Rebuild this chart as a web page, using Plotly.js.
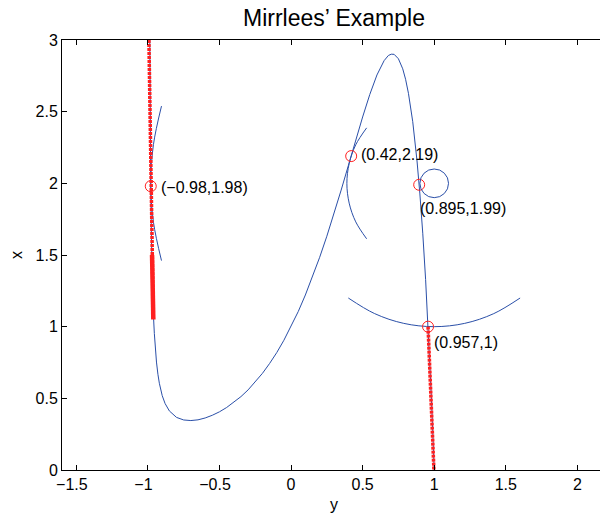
<!DOCTYPE html>
<html>
<head>
<meta charset="utf-8">
<script src="https://cdn.plot.ly/plotly-3.0.1.min.js"></script>
<style>
html, body { margin: 0; padding: 0; overflow: hidden; background: #fff; }
#chart { width: 620px; height: 516px; }
</style>
</head>
<body>
<div id="chart"></div>
<script>
// Blue curve (horizontal: y, vertical: x)
const curveY = [-0.988, -0.987, -0.985, -0.983, -0.98, -0.975, -0.97, -0.965, -0.96, -0.955, -0.95, -0.94, -0.93, -0.92, -0.9, -0.88, -0.85, -0.82, -0.8, -0.75, -0.7, -0.65, -0.6, -0.55, -0.5, -0.45, -0.4, -0.35, -0.3, -0.25, -0.2, -0.15, -0.1, -0.05, 0, 0.05, 0.1, 0.15, 0.2, 0.25, 0.3, 0.35, 0.4, 0.45, 0.5, 0.55, 0.6, 0.65, 0.68, 0.7, 0.72, 0.75, 0.78, 0.8, 0.82, 0.85, 0.87, 0.88, 0.9, 0.91, 0.92, 0.94, 0.95, 0.96, 0.97, 0.98, 0.99, 1.0];
const curveX = [3.184, 2.949, 2.574, 2.287, 1.964, 1.599, 1.356, 1.183, 1.053, 0.953, 0.872, 0.753, 0.668, 0.605, 0.519, 0.464, 0.412, 0.381, 0.367, 0.349, 0.345, 0.350, 0.363, 0.382, 0.406, 0.436, 0.471, 0.512, 0.559, 0.613, 0.674, 0.743, 0.819, 0.905, 1.0, 1.105, 1.221, 1.347, 1.484, 1.631, 1.788, 1.953, 2.123, 2.295, 2.463, 2.620, 2.756, 2.856, 2.892, 2.901, 2.900, 2.869, 2.799, 2.726, 2.628, 2.430, 2.257, 2.156, 1.926, 1.795, 1.652, 1.328, 1.146, 0.950, 0.737, 0.509, 0.264, 0.0];

// Red paths
const redPath1Y = [-0.993, -0.962];
const redPath1X = [3.0, 1.05];
const redThickY = [-0.971, -0.962];
const redThickX = [1.50, 1.05];
const redPath2Y = [0.957, 0.998];
const redPath2X = [1.0, 0.0];

// Marked points
const pointY = [-0.98, 0.42, 0.895, 0.957];
const pointX = [1.98, 2.19, 1.99, 1];
const pointLabels = ['(\u22120.98,1.98)', '(0.42,2.19)', '(0.895,1.99)', '(0.957,1)'];

// Arcs of circles centred at (1,2)
const arc1Y = [-0.905, -0.961, -0.980, -0.961, -0.905];
const arc1X = [2.539, 2.272, 2.0, 1.728, 1.461];
const arc2Y = [0.528, 0.452, 0.406, 0.390, 0.406, 0.452, 0.528];
const arc2X = [2.387, 2.269, 2.138, 2.0, 1.862, 1.731, 1.613];
const arc4Y = [0.400, 0.584, 0.787, 1.0, 1.213, 1.416, 1.600];
const arc4X = [1.200, 1.091, 1.023, 1.0, 1.023, 1.091, 1.200];
const smallCircleCenter = [1.0, 2.0];
const smallCircleRadius = 0.1;

// Ticks
const xTickVals = [-1.5, -1, -0.5, 0, 0.5, 1, 1.5, 2];
const xTickText = ['\u22121.5\u2007', '\u22121\u2007', '\u22120.5\u2007', '0', '0.5', '1', '1.5', '2'];
const yTickVals = [0, 0.5, 1, 1.5, 2, 2.5, 3];
const yTickText = ['0', '0.5', '1', '1.5', '2', '2.5', '3'];

// label placement (data units)
const labelPosY = [-0.898, 0.503, 0.918, 1.010];
const labelPosX = [1.974, 2.2, 1.827, 0.889];

const BLUE = '#2a4fa8';
const RED = '#ff2020';
const FONT = 'Liberation Sans, Arial, Helvetica, sans-serif';

const arcTrace = (xs, ys) => ({
  x: xs, y: ys, mode: 'lines', type: 'scatter',
  line: {color: BLUE, width: 1, shape: 'spline'}, hoverinfo: 'skip', showlegend: false
});

const traces = [
  {x: curveY, y: curveX, mode: 'lines', type: 'scatter', line: {color: BLUE, width: 1}, showlegend: false},
  arcTrace(arc1Y, arc1X),
  arcTrace(arc2Y, arc2X),
  arcTrace(arc4Y, arc4X),
  {x: redPath1Y, y: redPath1X, mode: 'lines', type: 'scatter', line: {color: RED, width: 3.5, dash: '3px,1px'}, showlegend: false},
  {x: redThickY, y: redThickX, mode: 'lines', type: 'scatter', line: {color: RED, width: 4.5}, showlegend: false},
  {x: redPath2Y, y: redPath2X, mode: 'lines', type: 'scatter', line: {color: RED, width: 3.5, dash: '3px,1px'}, showlegend: false},
  {x: pointY, y: pointX, mode: 'markers', type: 'scatter',
   marker: {symbol: 'circle-open', size: 11, color: RED, line: {color: RED, width: 1}}, showlegend: false}
];

const annotations = pointLabels.map((t, i) => ({
  x: labelPosY[i], y: labelPosX[i], xref: 'x', yref: 'y', text: t,
  showarrow: false, xanchor: 'left', yanchor: 'middle', xshift: -4,
  font: {family: FONT, size: 16, color: '#000'}
}));

const layout = {
  width: 620, height: 516,
  margin: {l: 62, r: 14, t: 40, b: 46},
  paper_bgcolor: '#fff', plot_bgcolor: '#fff',
  title: {text: 'Mirrlees\u2019 Example', font: {family: FONT, size: 23, color: '#000'},
          x: 0.5, xref: 'paper', xanchor: 'center', y: 1 - 18/516, yref: 'container', yanchor: 'middle'},
  xaxis: {range: [-1.6, 2.2], tickvals: xTickVals, ticktext: xTickText,
          ticks: 'inside', ticklen: 5, tickcolor: '#000', showline: true, linecolor: '#000', linewidth: 1,
          mirror: 'allticks', showgrid: false, zeroline: false,
          tickfont: {family: FONT, size: 16, color: '#000'},
          title: {text: 'y', font: {family: FONT, size: 16, color: '#000'}, standoff: 6}},
  yaxis: {range: [0, 3], tickvals: yTickVals, ticktext: yTickText,
          ticks: 'inside', ticklen: 5, tickcolor: '#000', showline: true, linecolor: '#000', linewidth: 1,
          mirror: 'allticks', showgrid: false, zeroline: false,
          tickfont: {family: FONT, size: 16, color: '#000'},
          title: {text: 'x', font: {family: FONT, size: 16, color: '#000'}, standoff: 8}},
  shapes: [{type: 'circle', xref: 'x', yref: 'y',
            x0: smallCircleCenter[0] - smallCircleRadius, x1: smallCircleCenter[0] + smallCircleRadius,
            y0: smallCircleCenter[1] - smallCircleRadius, y1: smallCircleCenter[1] + smallCircleRadius,
            line: {color: BLUE, width: 1}}],
  annotations: annotations,
  showlegend: false
};

Plotly.newPlot('chart', traces, layout, {displayModeBar: false, staticPlot: true});
</script>
</body>
</html>
